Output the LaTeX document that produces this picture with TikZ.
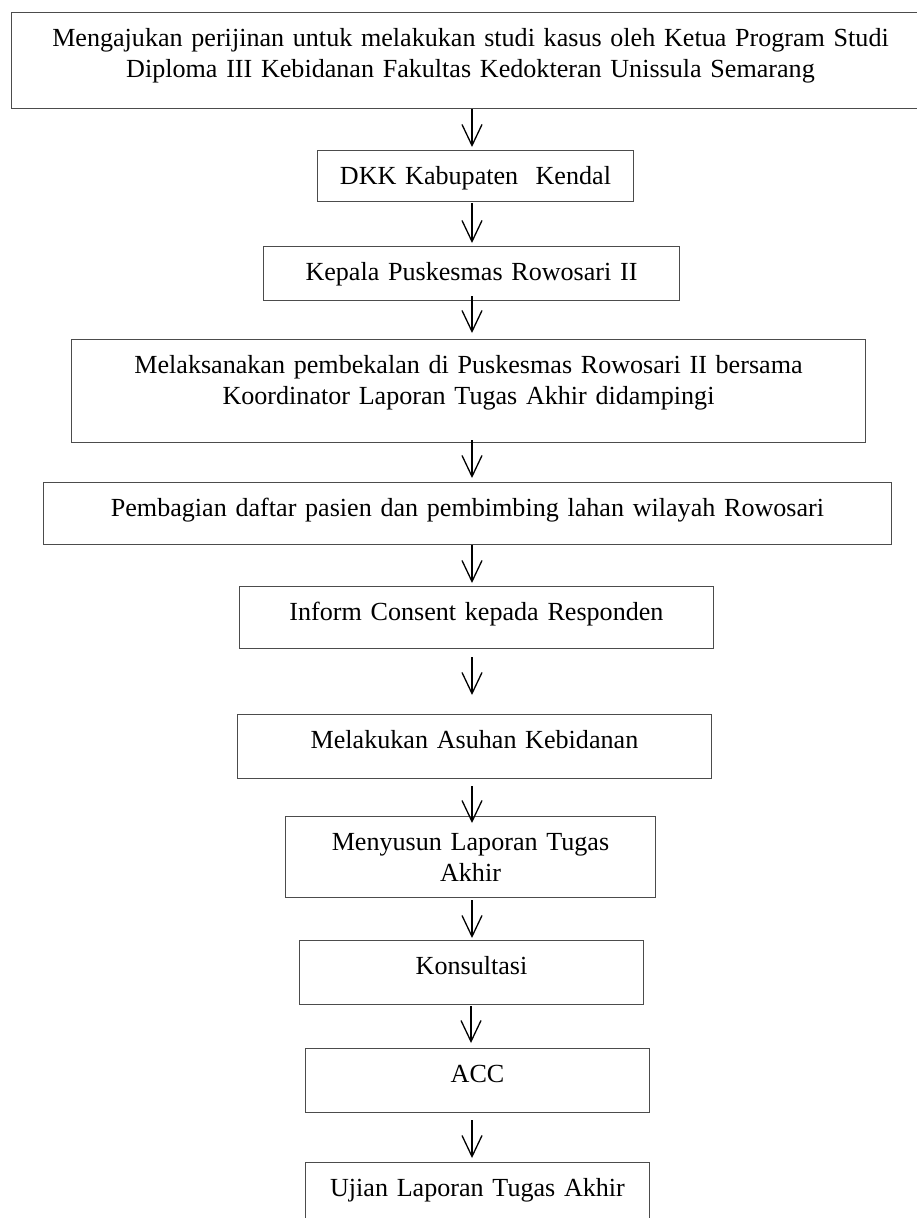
\documentclass[tikz,border=0pt]{standalone}
\usepackage{fontspec}
\setmainfont{Liberation Serif}
\usetikzlibrary{arrows.meta}

\begin{document}
\begin{tikzpicture}[x=1pt, y=1pt,
  stepbox/.style={draw=black!70, line width=1pt, anchor=north west, inner sep=0pt,
    align=center, text height=34pt, font=\fontsize{26.1}{31}\selectfont},
  flow/.style={black, line width=1.3pt, -{Straight Barb[length=21pt, width=20pt]}}]
  \useasboundingbox (0,0) rectangle (917,-1218);
  \node[stepbox, text width=918pt, text depth=62pt] (b1) at (11,-12) {Mengajukan perijinan untuk melakukan studi kasus oleh Ketua Program Studi\\Diploma III Kebidanan Fakultas Kedokteran Unissula Semarang};
  \node[stepbox, text width=316pt, text depth=17pt] (b2) at (317,-150) {DKK Kabupaten~ Kendal};
  \node[stepbox, text width=416pt, text depth=20pt] (b3) at (263,-246) {Kepala Puskesmas Rowosari II};
  \node[stepbox, text width=794pt, text depth=69pt] (b4) at (71,-339) {Melaksanakan pembekalan di Puskesmas Rowosari II bersama\\Koordinator Laporan Tugas Akhir didampingi};
  \node[stepbox, text width=848pt, text depth=28pt] (b5) at (43,-482) {Pembagian daftar pasien dan pembimbing lahan wilayah Rowosari};
  \node[stepbox, text width=474pt, text depth=28pt] (b6) at (239,-586) {Inform Consent kepada Responden};
  \node[stepbox, text width=474pt, text depth=30pt] (b7) at (237,-714) {Melakukan Asuhan Kebidanan};
  \node[stepbox, text width=370pt, text depth=47pt] (b8) at (285,-816) {Menyusun Laporan Tugas\\Akhir};
  \node[stepbox, text width=344pt, text depth=30pt] (b9) at (299,-940) {Konsultasi};
  \node[stepbox, text width=344pt, text depth=30pt] (b10) at (305,-1048) {ACC};
  \node[stepbox, text width=344pt, text depth=36pt] (b11) at (305,-1162) {Ujian Laporan Tugas Akhir};
  \coordinate (axis) at (472,0);
  \draw[flow, shorten >=3pt] (b1.south -| axis) -- (b2.north -| axis);
  \draw[flow, shorten <=1pt, shorten >=3pt] (b2.south -| axis) -- (b3.north -| axis);
  \draw[flow, shorten <=-5pt, shorten >=6pt] (b3.south -| axis) -- (b4.north -| axis);
  \draw[flow, shorten <=-3pt, shorten >=4pt] (b4.south -| axis) -- (b5.north -| axis);
  \draw[flow, shorten >=3pt] (b5.south -| axis) -- (b6.north -| axis);
  \draw[flow, shorten <=8pt, shorten >=19pt] (b6.south -| axis) -- (b7.north -| axis);
  \draw[flow, shorten <=7pt, shorten >=-7pt] (b7.south -| axis) -- (b8.north -| axis);
  \draw[flow, shorten <=2pt, shorten >=2pt] (b8.south -| axis) -- (b9.north -| axis);
  \draw[flow, shorten <=1pt, shorten >=5pt] ([xshift=-1pt]b9.south -| axis) -- ([xshift=-1pt]b10.north -| axis);
  \draw[flow, shorten <=7pt, shorten >=4pt] (b10.south -| axis) -- (b11.north -| axis);
\end{tikzpicture}
\end{document}
